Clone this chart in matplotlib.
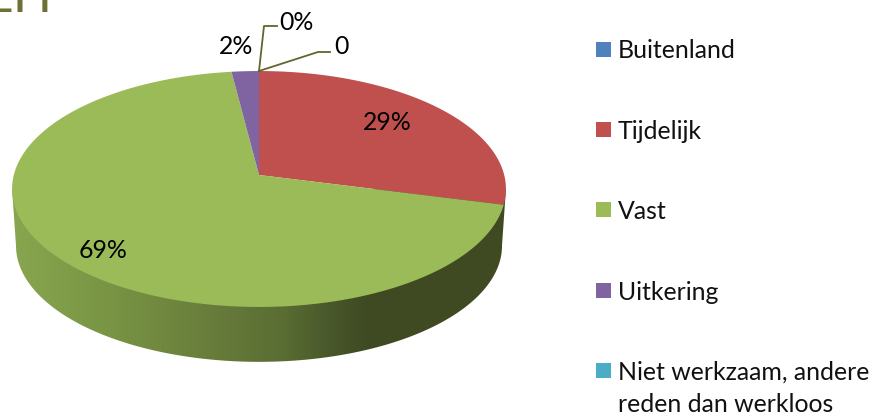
import numpy as np
import matplotlib
matplotlib.use("Agg")
import matplotlib.pyplot as plt
from matplotlib.colors import LinearSegmentedColormap
from matplotlib.patches import Polygon, Rectangle

plt.rcParams['font.family'] = ['Lato', 'DejaVu Sans']

labels = ['Buitenland', 'Tijdelijk', 'Vast', 'Uitkering',
          'Niet werkzaam, andere\nreden dan werkloos']
values = [0, 29, 69, 2, 0]
colors = ['#4f81bd', '#c0504d', '#9bbb59', '#8064a2', '#4bacc6']
value_labels = ['0%', '29%', '69%', '2%', '0']

# pie in pixels, with the perspective of the tilted disc
cx, cy = 259, 175
a, b, k = 116.3, 245.2, -0.1186
depth = 57
shrink = 0.984
text_color = 'black'
line_color = '#62652c'
size = 17.9


def project(theta, scale=1.0, dy=0.0):
    # theta is clockwise from the top, in degrees
    t = np.radians(theta)
    X, Y = np.sin(t), -np.cos(t)
    w = 1 + k * Y
    return cx + scale * b * X / w, cy + dy + scale * a * Y / w


fig = plt.figure(figsize=(8.73, 4.15), dpi=100)
ax = fig.add_axes([0, 0, 1, 1])

# side wall
th = np.linspace(0, 360, 1441)
tx, ty = project(th)
bx, by = project(th, shrink, depth)
il, ir = np.argmin(tx), np.argmax(tx)
jl, jr = np.argmin(bx), np.argmax(bx)
arc = np.r_[jr:jl + 1]
wall = np.vstack([[tx[ir], ty[ir]],
                  np.column_stack([bx[arc], by[arc]]),
                  [tx[il], ty[il]]])
wall_patch = Polygon(wall, closed=True, fc='none', ec='none')
ax.add_patch(wall_patch)
stops = [(0.0, '#88a64f'), (0.2, '#789444'), (0.4, '#687d3b'),
         (0.55, '#5a6d33'), (0.65, '#48562a'), (0.72, '#3f4a22'), (1.0, '#3f4a22')]
cmap = LinearSegmentedColormap.from_list('wall', stops)
grad = np.linspace(0, 1, 256).reshape(1, -1)
im = ax.imshow(grad, cmap=cmap, aspect='auto', extent=(12, 506, 362, 190))
im.set_clip_path(wall_patch)

# top of the pie
start = 0
for v, c in zip(values, colors):
    if v > 0:
        sweep = np.linspace(start, start + v * 3.6, 200)
        x, y = project(sweep)
        pts = np.vstack([[cx, cy], np.column_stack([x, y])])
        ax.add_patch(Polygon(pts, closed=True, fc=c, ec='none', zorder=3))
    start += v * 3.6

# leader lines
ax.plot([259, 264, 277], [71, 26, 26], color=line_color, lw=1.3, zorder=4)
ax.plot([259, 318, 330], [71, 52, 52], color=line_color, lw=1.3, zorder=4)

# value labels
label_pos = [(296, 22), (387, 122), (103, 250), (236, 47), (341, 47)]
for s, (x, y) in zip(value_labels, label_pos):
    ax.text(x, y, s, fontsize=size, color=text_color, ha='center', va='center', zorder=5)

# legend
legend_y = [50, 130, 210, 291, 371]
for name, c, y in zip(labels, colors, legend_y):
    ax.add_patch(Rectangle((596, y - 8), 15, 15, fc=c, ec='none'))
    lines = name.split('\n')
    for i, line in enumerate(lines):
        ax.text(618, y + 1 + i * 32, line, fontsize=size, color='#111111', ha='left', va='center')

# what is left of the cropped title
ax.text(-17, 12, 'EH', fontsize=37, color='#6f7035', ha='left', va='baseline')

ax.set_xlim(0, 873)
ax.set_ylim(415, 0)
ax.axis('off')
fig.savefig('out.png', dpi=100)
